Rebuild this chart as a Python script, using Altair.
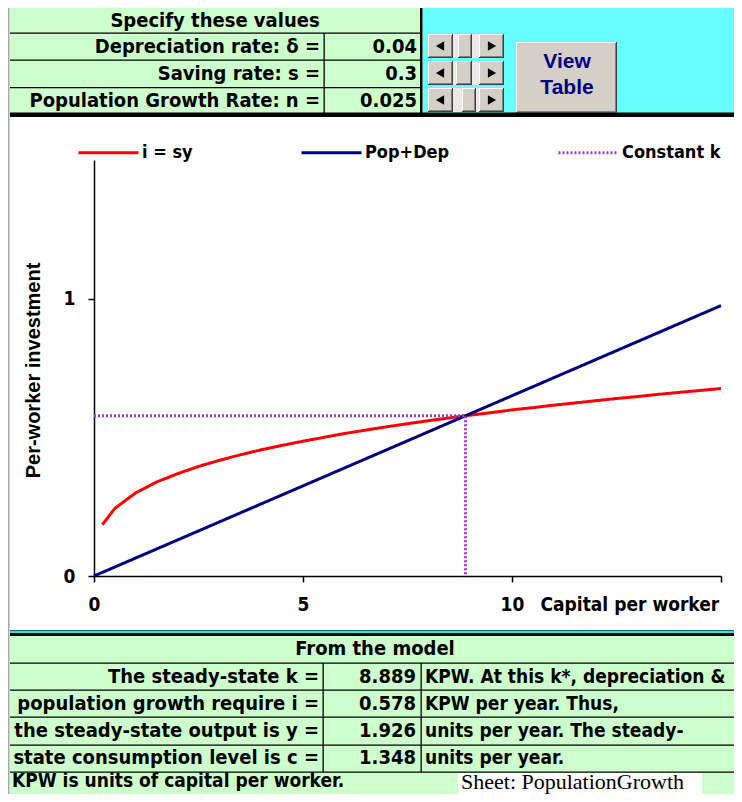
import altair as alt
import pandas as pd

# ---------------- data ----------------
INPUT_LABELS = ["Depreciation rate: δ =", "Saving rate: s =", "Population Growth Rate: n ="]
INPUT_VALUES = ["0.04", "0.3", "0.025"]

MODEL_TITLE = "From the model"
MODEL_LABELS = ["The steady-state k =", "population growth require i  =",
                "the steady-state output is y =", "state consumption level is c ="]
MODEL_VALUES = ["8.889", "0.578", "1.926", "1.348"]
MODEL_NOTES = ["KPW. At this k*, depreciation &", "KPW  per year. Thus,",
               "units per year. The steady-", "units per year."]
FOOTNOTE = "KPW is units of capital per worker."
SHEET_NAME = "Sheet: PopulationGrowth"

SERIES = ["i = sy", "Pop+Dep", "Constant k"]

K_SAVING = [0.2, 0.5, 1.0, 1.5, 2.0, 2.5, 3.0, 3.5, 4.0, 4.5, 5.0, 5.5, 6.0, 6.5, 7.0, 7.5,
            8.0, 8.5, 9.0, 9.5, 10.0, 10.5, 11.0, 11.5, 12.0, 12.5, 13.0, 13.5, 14.0, 14.5, 15.0]
I_SAVING = [0.185, 0.244, 0.300, 0.339, 0.369, 0.395, 0.417, 0.437, 0.455, 0.471, 0.486, 0.500,
            0.514, 0.526, 0.538, 0.549, 0.560, 0.570, 0.580, 0.589, 0.599, 0.607, 0.616, 0.624,
            0.632, 0.640, 0.647, 0.655, 0.662, 0.669, 0.676]

K_POPDEP = [0, 1, 2, 3, 4, 5, 6, 7, 8, 9, 10, 11, 12, 13, 14, 15]
I_POPDEP = [0.000, 0.065, 0.130, 0.195, 0.260, 0.325, 0.390, 0.455, 0.520, 0.585, 0.650,
            0.715, 0.780, 0.845, 0.910, 0.975]

K_STAR = 8.889
I_STAR = 0.578

# ---------------- layout helpers (page pixels -> chart pixels) ----------------
W, H = 726, 786
OX, OY = 8, 8
NARROW = "DejaVu Sans Condensed, Liberation Sans Narrow, sans-serif"
SANS = "Liberation Sans, Arial, sans-serif"
SERIF = "Liberation Serif, Times New Roman, serif"
GREEN = "#ccffcc"
CYAN = "#66ffff"
BTN = "#d4d0c8"


def rect_layer(rows):
    df = pd.DataFrame([{"x1": a - OX, "y1": b - OY, "x2": c - OX, "y2": d - OY, "fill": f}
                       for a, b, c, d, f in rows])
    return alt.Chart(df).mark_rect(strokeWidth=0).encode(
        x=alt.X("x1:Q", scale=None), x2="x2:Q",
        y=alt.Y("y1:Q", scale=None), y2="y2:Q",
        fill=alt.Fill("fill:N", scale=None))


def text_layer(rows, **kw):
    df = pd.DataFrame([{"tx": x - OX, "ty": y - OY, "t": t} for x, y, t in rows])
    return alt.Chart(df).mark_text(baseline="middle", **kw).encode(
        x=alt.X("tx:Q", scale=None), y=alt.Y("ty:Q", scale=None), text="t:N")


def raised(x1, y1, x2, y2):
    return [(x1, y1, x2, y2, BTN),
            (x1, y1, x2, y1 + 1, "#ffffff"), (x1, y1, x1 + 1, y2, "#ffffff"),
            (x1 + 1, y2 - 2, x2 - 1, y2 - 1, "#808080"), (x2 - 2, y1 + 1, x2 - 1, y2 - 1, "#808080"),
            (x1, y2 - 1, x2, y2, "#404040"), (x2 - 1, y1, x2, y2, "#404040")]


# ---------------- background blocks ----------------
bg = [
    (423, 0, 742, 113, CYAN),
    (10, 0, 423, 113, GREEN),
    (8, 0, 9.5, 802, "#a8a8a8"),
    (10, 32.5, 421, 33.8, "#000000"), (10, 59.5, 421, 60.8, "#000000"), (10, 87, 421, 88.3, "#000000"),
    (323.5, 33, 324.8, 113, "#000000"),
    (420, 0, 422.5, 113, "#000000"),
    (10, 112.5, 742, 117, "#000000"),
    (10, 630, 742, 631.5, "#007070"), (10, 631.5, 742, 633, "#40e0e0"), (10, 633, 742, 636, "#000000"),
    (10, 636, 742, 802, GREEN),
]
for yy in [663, 690, 717, 745, 772]:
    bg.append((10, yy - 0.6, 742, yy + 0.7, "#000000"))
bg += [(322.5, 663, 323.8, 772, "#000000"), (420.5, 663, 421.8, 772, "#000000"),
       (458, 773, 702, 802, "#ffffff")]

# scroll bars and button
SB_TOPS = [34, 61, 88]
THUMBS = [(458, 472), (456, 472), (462, 476)]
widgets = []
arrow_left, arrow_right = [], []
for t, (a, b) in zip(SB_TOPS, THUMBS):
    widgets.append((428, t, 504, t + 24, "#ebe9e5"))
    widgets += raised(428, t, 453, t + 24)
    widgets += raised(479, t, 504, t + 24)
    widgets += raised(a, t, b, t + 24)
    arrow_left.append({"ax": 440 - OX, "ay": t + 12 - OY})
    arrow_right.append({"ax": 492 - OX, "ay": t + 12 - OY})
widgets += raised(516, 42, 617, 113)

arrows_l = alt.Chart(pd.DataFrame(arrow_left)).mark_point(
    shape="triangle-left", filled=True, color="black", size=90, opacity=1).encode(
    x=alt.X("ax:Q", scale=None), y=alt.Y("ay:Q", scale=None))
arrows_r = alt.Chart(pd.DataFrame(arrow_right)).mark_point(
    shape="triangle-right", filled=True, color="black", size=90, opacity=1).encode(
    x=alt.X("ax:Q", scale=None), y=alt.Y("ay:Q", scale=None))

# ---------------- texts ----------------
tbl = dict(font=NARROW, fontSize=20, fontWeight="bold", color="black")
ROW_TOP = [47, 74, 101]
ROW_BOT = [677, 704, 731, 758]
texts = [
    text_layer([(215, 21, "Specify these values")], align="center", **tbl),
    text_layer([(320, y, s) for y, s in zip(ROW_TOP, INPUT_LABELS)], align="right", **tbl),
    text_layer([(417, y, s) for y, s in zip(ROW_TOP, INPUT_VALUES)], align="right", **tbl),
    text_layer([(567, 62, "View"), (567, 88, "Table")], align="center",
               font=SANS, fontSize=21, fontWeight="bold", color="#000080"),
    text_layer([(375, 649, MODEL_TITLE)], align="center", **tbl),
    text_layer([(319, y, s) for y, s in zip(ROW_BOT, MODEL_LABELS)], align="right", **tbl),
    text_layer([(416, y, s) for y, s in zip(ROW_BOT, MODEL_VALUES)], align="right", **tbl),
    text_layer([(425, y, s) for y, s in zip(ROW_BOT, MODEL_NOTES)], align="left",
               font=NARROW, fontSize=19, fontWeight="bold", color="black"),
    text_layer([(12, 781, FOOTNOTE)], align="left",
               font=NARROW, fontSize=19, fontWeight="bold", color="black"),
    text_layer([(461, 782, SHEET_NAME)], align="left", font=SERIF, fontSize=22, color="black"),
]

# ---------------- chart lines ----------------
rows = []
for j, (k, v) in enumerate(zip(K_SAVING, I_SAVING)):
    rows.append({"series": SERIES[0], "k": k, "i": v, "ord": j})
for j, (k, v) in enumerate(zip(K_POPDEP, I_POPDEP)):
    rows.append({"series": SERIES[1], "k": k, "i": v, "ord": j})
for j, (k, v) in enumerate([(0, I_STAR), (K_STAR, I_STAR), (K_STAR, 0)]):
    rows.append({"series": SERIES[2], "k": k, "i": v, "ord": j})
lines_df = pd.DataFrame(rows)

leg = alt.Legend(title=None, orient="none", legendX=77 - OX, legendY=151 - OY - 30,
                 direction="horizontal", symbolType="stroke", symbolSize=3600,
                 labelFont=NARROW, labelFontSize=18, labelFontWeight="bold", labelColor="black",
                 labelOffset=2, columnPadding=102, padding=0, symbolStrokeWidth=3)

x_axis = alt.Axis(values=[0, 5, 10, 15], labelExpr="datum.value == 15 ? '' : datum.label",
                  offset=-(H - (576 - OY)), grid=False, domainColor="black", domainWidth=1.5,
                  tickColor="black", tickWidth=1.5, tickSize=6, labelFont=NARROW, labelFontSize=19,
                  labelFontWeight="bold", labelColor="black", labelPadding=13, labelFlush=False,
                  labelOverlap=False, title="Capital per worker", titleX=540 - OX, titleY=28,
                  titleAlign="left", titleBaseline="middle", titleFont=NARROW, titleFontSize=19,
                  titleFontWeight="bold", titleColor="black")
y_axis = alt.Axis(values=[0, 1], offset=-(94 - OX), grid=False, domainColor="black",
                  domainWidth=1.5, tickColor="black", tickWidth=1.5, tickSize=6,
                  labelFont=NARROW, labelFontSize=19, labelFontWeight="bold", labelColor="black",
                  labelPadding=13, labelFlush=False, title="Per-worker investment",
                  titleX=33 - 94, titleY=370 - OY, titleAngle=270, titleAlign="center",
                  titleBaseline="middle", titleFont=SANS, titleFontSize=20, titleFontWeight="bold",
                  titleColor="black")

lines = alt.Chart(lines_df).mark_line().encode(
    x=alt.X("k:Q", scale=alt.Scale(domain=[0, 15], range=[94 - OX, 721 - OX], nice=False, zero=False),
            axis=x_axis),
    y=alt.Y("i:Q", scale=alt.Scale(domain=[0, 1.5], range=[576 - OY, 160 - OY], nice=False),
            axis=y_axis),
    color=alt.Color("series:N", scale=alt.Scale(domain=SERIES, range=["#ff0000", "#000080", "#aa33cc"]),
                    legend=leg),
    strokeDash=alt.StrokeDash("series:N", scale=alt.Scale(domain=SERIES, range=[[1, 0], [1, 0], [2, 2]]),
                              legend=leg),
    strokeWidth=alt.StrokeWidth("series:N", scale=alt.Scale(domain=SERIES, range=[3, 3, 1.3]),
                                legend=leg),
    order="ord:Q",
)

chart = alt.layer(
    rect_layer(bg), rect_layer(widgets), arrows_l, arrows_r, *texts, lines
).properties(
    width=W, height=H, padding=0, autosize=alt.AutoSizeParams(type="none"), background="white"
).configure_view(stroke=None)

chart.save("out.html", embed_options={"renderer": "svg", "actions": False})
